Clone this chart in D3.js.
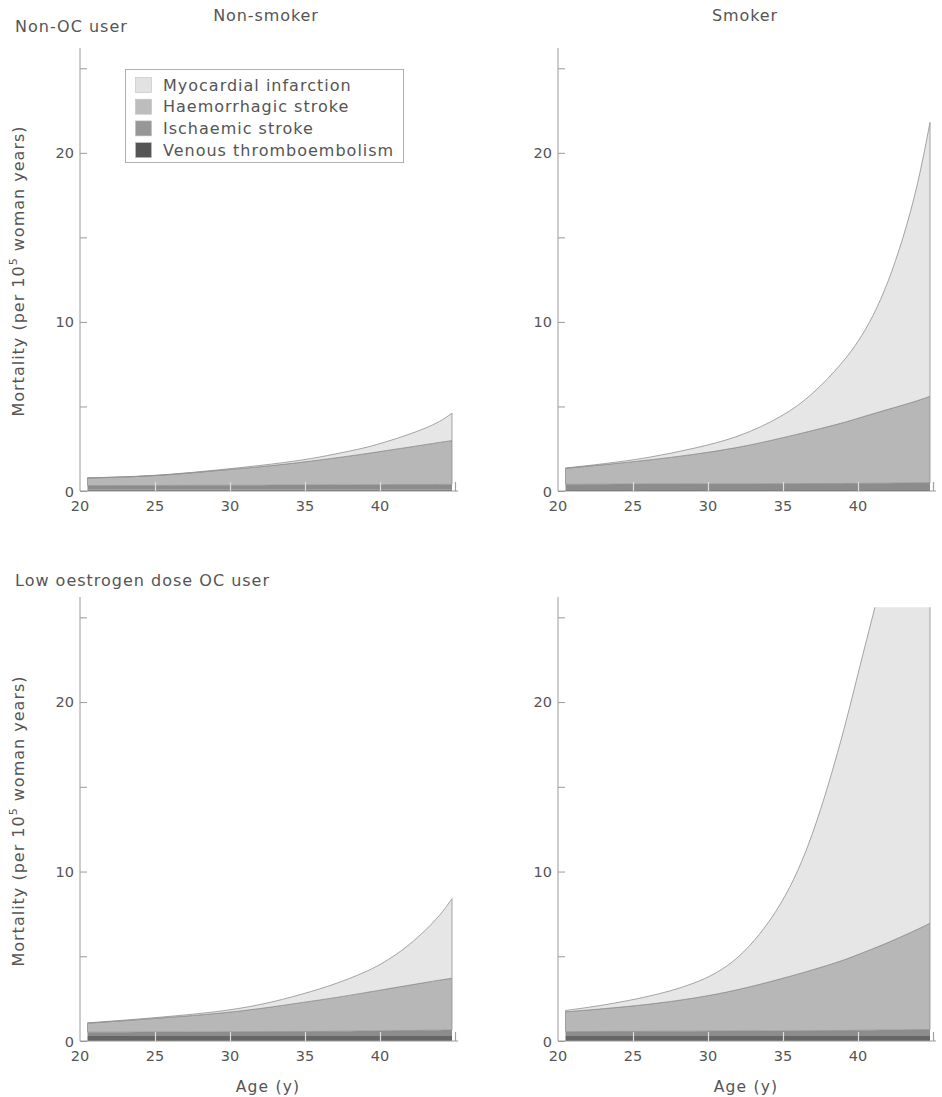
<!DOCTYPE html>
<html><head><meta charset="utf-8">
<script src="https://cdn.jsdelivr.net/npm/d3@7"></script>
<style>
html,body{margin:0;padding:0;background:#fff;}
text{font-family:"DejaVu Sans",sans-serif;fill:#555;}
</style></head>
<body><svg id="c" width="942" height="1097"></svg>
<script>
// ---- data (mortality per 10^5 woman years) ----
const ages = [20.5, 23, 26, 29, 32, 35, 37, 39, 40, 41, 42, 43, 44, 44.8];
const causes = ["Venous thromboembolism", "Ischaemic stroke", "Haemorrhagic stroke", "Myocardial infarction"];
const legendOrder = ["Myocardial infarction", "Haemorrhagic stroke", "Ischaemic stroke", "Venous thromboembolism"];

// Non-OC user, non-smoker
const nonOcNonSmokerVte  = [0.08,0.08,0.08,0.08,0.08,0.08,0.08,0.08,0.08,0.08,0.08,0.08,0.08,0.08];
const nonOcNonSmokerIsch = [0.24,0.24,0.25,0.26,0.26,0.27,0.28,0.29,0.29,0.30,0.30,0.30,0.31,0.31];
const nonOcNonSmokerHaem = [0.45,0.50,0.62,0.86,1.08,1.37,1.59,1.83,1.96,2.09,2.22,2.36,2.49,2.59];
const nonOcNonSmokerMi   = [0.01,0.01,0.02,0.03,0.08,0.12,0.23,0.35,0.47,0.60,0.77,0.96,1.22,1.62];
// Non-OC user, smoker
const nonOcSmokerVte  = [0.10,0.10,0.10,0.10,0.10,0.10,0.10,0.10,0.10,0.10,0.10,0.10,0.10,0.10];
const nonOcSmokerIsch = [0.30,0.30,0.31,0.32,0.32,0.33,0.34,0.35,0.35,0.36,0.36,0.37,0.38,0.38];
const nonOcSmokerHaem = [0.94,1.15,1.41,1.73,2.13,2.72,3.14,3.58,3.85,4.11,4.37,4.61,4.87,5.12];
const nonOcSmokerMi   = [0.02,0.05,0.13,0.35,0.60,1.25,2.12,3.57,4.50,5.73,7.47,9.82,12.75,16.2];
// Low oestrogen dose OC user, non-smoker
const ocNonSmokerVte  = [0.30,0.30,0.30,0.30,0.30,0.30,0.30,0.30,0.30,0.30,0.30,0.30,0.30,0.30];
const ocNonSmokerIsch = [0.22,0.22,0.23,0.24,0.25,0.26,0.27,0.29,0.30,0.31,0.32,0.33,0.34,0.35];
const ocNonSmokerHaem = [0.53,0.68,0.87,1.06,1.35,1.74,1.98,2.26,2.40,2.54,2.68,2.82,2.96,3.05];
const ocNonSmokerMi   = [0.02,0.03,0.05,0.10,0.20,0.50,0.80,1.20,1.50,1.90,2.40,3.05,3.80,4.70];
// Low oestrogen dose OC user, smoker
const ocSmokerVte  = [0.30,0.30,0.30,0.30,0.30,0.30,0.30,0.30,0.30,0.30,0.30,0.30,0.30,0.30];
const ocSmokerIsch = [0.25,0.26,0.27,0.28,0.29,0.30,0.31,0.32,0.33,0.34,0.35,0.36,0.37,0.38];
const ocSmokerHaem = [1.17,1.34,1.58,1.92,2.41,3.10,3.59,4.13,4.47,4.81,5.15,5.54,5.93,6.27];
const ocSmokerMi   = [0.08,0.20,0.45,0.80,1.60,4.30,7.80,13.3,16.6,19.7,22.8,25.9,29.4,33.05];

const xTicks = [20, 25, 30, 35, 40, 45];
const xTickLabels = ["20", "25", "30", "35", "40", ""];
const yTicks = [0, 5, 10, 15, 20, 25];
const yTickLabels = ["0", "", "10", "", "20", ""];

// ---- styling ----
const fills = {
  "Myocardial infarction": "#e6e6e6",
  "Haemorrhagic stroke": "#b7b7b7",
  "Ischaemic stroke": "#8c8c8c",
  "Venous thromboembolism": "#666666"
};
const swatch = {
  "Myocardial infarction": "#e2e2e2",
  "Haemorrhagic stroke": "#bdbdbd",
  "Ischaemic stroke": "#979797",
  "Venous thromboembolism": "#555555"
};

const svg = d3.select("#c");

function makeRows(vte, isch, haem, mi) {
  return ages.map((a, i) => ({
    age: a,
    "Venous thromboembolism": vte[i],
    "Ischaemic stroke": isch[i],
    "Haemorrhagic stroke": haem[i],
    "Myocardial infarction": mi[i]
  }));
}

const panels = [
  {id: "p0", x0: 80,  y0: 491, yTop: 48,  clipV: 26, rows: makeRows(nonOcNonSmokerVte, nonOcNonSmokerIsch, nonOcNonSmokerHaem, nonOcNonSmokerMi)},
  {id: "p1", x0: 558, y0: 491, yTop: 48,  clipV: 26, rows: makeRows(nonOcSmokerVte, nonOcSmokerIsch, nonOcSmokerHaem, nonOcSmokerMi)},
  {id: "p2", x0: 80,  y0: 1041, yTop: 597, clipV: 25.6, rows: makeRows(ocNonSmokerVte, ocNonSmokerIsch, ocNonSmokerHaem, ocNonSmokerMi)},
  {id: "p3", x0: 558, y0: 1041, yTop: 597, clipV: 25.6, rows: makeRows(ocSmokerVte, ocSmokerIsch, ocSmokerHaem, ocSmokerMi)}
];

const stack = d3.stack().keys(causes);
const defs = svg.append("defs");

panels.forEach(p => {
  const x = d3.scaleLinear().domain([20, 45]).range([p.x0, p.x0 + 375]);
  const y = d3.scaleLinear().domain([0, 26.2]).range([p.y0, p.yTop]);
  const g = svg.append("g");

  defs.append("clipPath").attr("id", "clip-" + p.id)
    .append("rect")
    .attr("x", p.x0).attr("y", y(p.clipV))
    .attr("width", 380).attr("height", p.y0 - y(p.clipV) + 1);

  const series = stack(p.rows);
  const area = d3.area()
    .x(d => x(d.data.age))
    .y0(d => y(d[0]))
    .y1(d => y(d[1]))
    .curve(d3.curveBasis);

  const ga = g.append("g").attr("clip-path", "url(#clip-" + p.id + ")");
  ga.selectAll("path.layer").data(series).join("path")
    .attr("class", "layer")
    .attr("d", area)
    .attr("fill", s => fills[s.key])
    .attr("stroke", s => (s.key === "Myocardial infarction" || s.key === "Haemorrhagic stroke") ? "#8f8f8f" : "none")
    .attr("stroke-width", 0.8)
    .attr("stroke-linejoin", "round");

  // y axis (ticks point inward)
  const yAxis = d3.axisRight(y).tickValues(yTicks).tickSize(7).tickFormat(() => "");
  const ya = g.append("g").attr("transform", `translate(${p.x0},0)`).call(yAxis);
  ya.select(".domain").remove();
  ya.selectAll(".tick line").attr("stroke", "#9a9a9a");
  g.append("line").attr("x1", p.x0).attr("x2", p.x0)
    .attr("y1", p.yTop).attr("y2", p.y0).attr("stroke", "#9a9a9a").attr("stroke-width", 1);
  g.selectAll("text.ylab").data(yTicks.map((v, i) => ({v, t: yTickLabels[i]})).filter(d => d.t)).join("text")
    .attr("class", "ylab")
    .attr("x", p.x0 - 6).attr("y", d => y(d.v) + (d.v === 0 ? 1 : 0))
    .attr("dy", "0.36em")
    .attr("text-anchor", "end")
    .attr("font-size", 14.5)
    .text(d => d.t);

  // x axis (ticks point upward, drawn over the areas)
  g.append("line").attr("x1", p.x0).attr("x2", x(45) + 3)
    .attr("y1", p.y0).attr("y2", p.y0).attr("stroke", "#9a9a9a");
  const xAxis = d3.axisTop(x).tickValues(xTicks).tickSize(9).tickFormat(() => "");
  const xa = g.append("g").attr("transform", `translate(0,${p.y0})`).call(xAxis);
  xa.select(".domain").remove();
  xa.selectAll(".tick line").attr("stroke", d => d === 45 ? "#a0a0a0" : "#dcdcdc").attr("stroke-width", 1.2);
  xa.selectAll(".tick").filter(d => d === 20).remove();
  g.selectAll("text.xlab").data(xTicks.map((v, i) => ({v, t: xTickLabels[i]})).filter(d => d.t)).join("text")
    .attr("class", "xlab")
    .attr("x", d => x(d.v)).attr("y", p.y0 + 20)
    .attr("text-anchor", "middle")
    .attr("font-size", 14.5)
    .text(d => d.t);
});

// y axis titles
[271, 821].forEach(cy => {
  const t = svg.append("text")
    .attr("transform", `translate(24,${cy}) rotate(-90)`)
    .attr("text-anchor", "middle")
    .attr("font-size", 16)
    .attr("letter-spacing", 1);
  t.append("tspan").text("Mortality (per 10");
  t.append("tspan").attr("dy", -7).attr("font-size", 11).text("5");
  t.append("tspan").attr("dy", 7).text(" woman years)");
});

// x axis titles
[268, 746].forEach(cx => {
  svg.append("text").attr("x", cx).attr("y", 1092).attr("text-anchor", "middle")
    .attr("font-size", 15.5).attr("letter-spacing", 1.2).text("Age (y)");
});

// column and row headings
svg.append("text").attr("x", 266).attr("y", 21).attr("text-anchor", "middle")
  .attr("font-size", 16).attr("letter-spacing", 0.9).text("Non-smoker");
svg.append("text").attr("x", 745).attr("y", 21).attr("text-anchor", "middle")
  .attr("font-size", 16).attr("letter-spacing", 0.9).text("Smoker");
svg.append("text").attr("x", 15).attr("y", 32)
  .attr("font-size", 16).attr("letter-spacing", 1).text("Non-OC user");
svg.append("text").attr("x", 15).attr("y", 586)
  .attr("font-size", 16).attr("letter-spacing", 1).text("Low oestrogen dose OC user");

// legend
const lg = svg.append("g");
lg.append("rect").attr("x", 125.5).attr("y", 69.5).attr("width", 278).attr("height", 93)
  .attr("fill", "#fff").attr("stroke", "#b0b0b0");
legendOrder.forEach((k, i) => {
  const cy = 85 + i * 21.7;
  lg.append("rect").attr("x", 135.5).attr("y", cy - 7.5).attr("width", 16).attr("height", 15)
    .attr("fill", swatch[k]).attr("stroke", "#c0c0c0").attr("stroke-width", 0.6);
  lg.append("text").attr("x", 163).attr("y", cy).attr("dy", "0.36em")
    .attr("font-size", 16).attr("letter-spacing", 1).text(k);
});
</script></body></html>
